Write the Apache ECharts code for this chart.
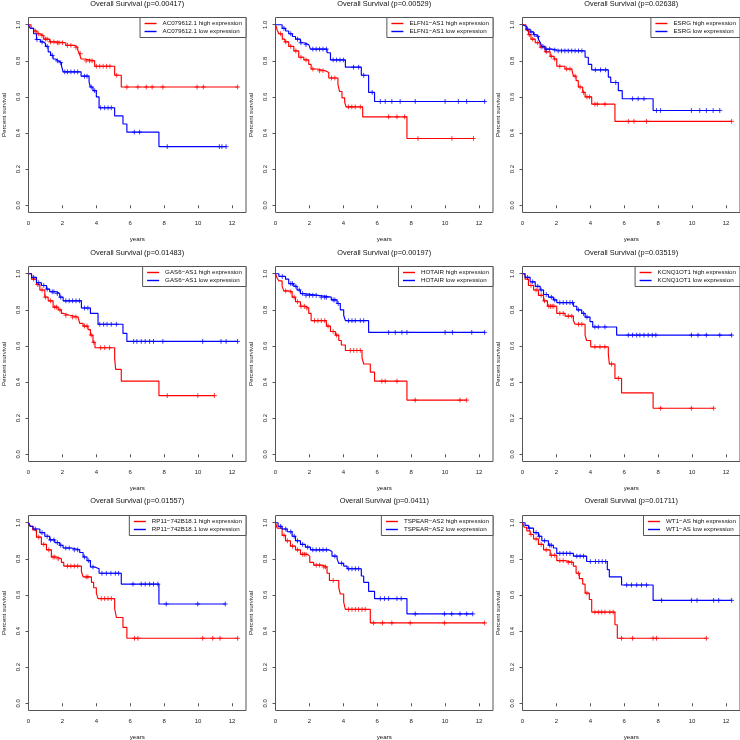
<!DOCTYPE html>
<html><head><meta charset="utf-8">
<script src="https://cdn.jsdelivr.net/npm/echarts@6/dist/echarts.min.js"></script>
<style>html,body{margin:0;padding:0;background:#fff}#c{width:740px;height:740px}</style>
</head><body><div id="c"></div>
<script>
// ---- panel labels ----
const genes = ['AC079612.1', 'ELFN1\u2212AS1', 'ESRG', 'GAS6\u2212AS1', 'HOTAIR', 'KCNQ1OT1', 'RP11\u2212742B18.1', 'TSPEAR\u2212AS2', 'WT1\u2212AS'];
const pValues = ['0.00417', '0.00529', '0.02638', '0.01483', '0.00197', '0.03519', '0.01557', '0.0411', '0.01711'];
const xTicks = [0, 2, 4, 6, 8, 10, 12];
const yTicks = [0, 0.2, 0.4, 0.6, 0.8, 1.0];

// ---- Panel 1: AC079612.1 ----
const p1HighT = [0, 0.15, 0.3, 0.5, 0.67, 0.9, 1.25, 1.6, 2.2, 2.7, 2.9, 3.0, 3.1, 3.3, 3.9, 5.08, 5.47];
const p1HighS = [1, 0.98, 0.965, 0.95, 0.94, 0.92, 0.905, 0.9, 0.886, 0.875, 0.86, 0.84, 0.81, 0.8, 0.77, 0.72, 0.655];
const p1HighC = [0.4, 0.6, 0.8, 1.0, 1.1, 1.3, 1.5, 1.7, 1.8, 2.0, 2.3, 2.5, 2.8, 3.05, 3.4, 3.6, 3.75, 4.0, 4.2, 4.4, 4.6, 4.8, 5.2, 5.8, 6.45, 6.94, 7.29, 7.92, 9.94, 10.31, 12.33];
const p1LowT = [0, 0.1, 0.3, 0.47, 0.7, 0.86, 1.0, 1.16, 1.3, 1.45, 1.6, 1.75, 1.94, 2.04, 3.1, 3.57, 3.65, 3.8, 4.0, 4.16, 5.08, 5.57, 5.8, 7.69];
const p1LowS = [1, 0.98, 0.95, 0.918, 0.905, 0.896, 0.88, 0.85, 0.83, 0.81, 0.8, 0.79, 0.775, 0.739, 0.715, 0.683, 0.655, 0.635, 0.6, 0.54, 0.495, 0.45, 0.405, 0.325];
const p1LowC = [0.5, 0.8, 1.1, 1.4, 1.7, 1.9, 2.14, 2.3, 2.5, 2.7, 2.9, 3.3, 3.45, 3.7, 3.9, 4.25, 4.49, 4.69, 4.88, 6.24, 6.55, 8.18, 11.25, 11.4, 11.65];

// ---- Panel 2: ELFN1-AS1 ----
const p2HighT = [0, 0.1, 0.2, 0.4, 0.55, 0.78, 1.08, 1.37, 1.67, 1.96, 2.1, 2.45, 2.94, 3.14, 3.68, 3.78, 3.92, 4.08, 4.16, 5.14, 7.75];
const p2HighS = [1, 0.97, 0.95, 0.92, 0.905, 0.88, 0.855, 0.82, 0.805, 0.78, 0.755, 0.745, 0.735, 0.705, 0.67, 0.63, 0.595, 0.57, 0.545, 0.49, 0.37];
const p2HighC = [0.3, 0.6, 0.9, 1.2, 1.5, 1.8, 2.2, 2.6, 2.8, 3.3, 3.5, 4.3, 4.5, 4.7, 5.0, 6.67, 7.16, 7.61, 8.4, 10.4, 11.67];
const p2LowT = [0, 0.39, 0.6, 0.78, 1.0, 1.18, 1.47, 1.67, 1.96, 2.06, 3.04, 3.24, 4.12, 5.06, 5.49, 5.84];
const p2LowS = [1, 0.98, 0.965, 0.95, 0.935, 0.92, 0.9, 0.89, 0.88, 0.865, 0.845, 0.805, 0.765, 0.72, 0.625, 0.575];
const p2LowC = [0.5, 0.9, 1.3, 1.5, 1.8, 2.2, 2.4, 2.6, 2.8, 3.0, 3.4, 3.6, 3.8, 4.0, 4.6, 4.9, 5.2, 5.7, 6.18, 6.47, 6.86, 7.35, 8.24, 10.0, 10.78, 11.27, 12.33];

// ---- Panel 3: ESRG ----
const p3HighT = [0, 0.2, 0.35, 0.5, 0.75, 1.04, 1.33, 1.63, 1.86, 2.02, 2.5, 2.9, 3.0, 3.16, 3.29, 3.55, 3.69, 4.08, 5.45];
const p3HighS = [1, 0.97, 0.945, 0.92, 0.9, 0.875, 0.85, 0.825, 0.81, 0.77, 0.755, 0.75, 0.715, 0.69, 0.655, 0.625, 0.6, 0.56, 0.465];
const p3HighC = [0.4, 0.6, 0.9, 1.1, 1.4, 1.7, 1.9, 2.2, 2.6, 2.8, 3.1, 3.4, 3.6, 3.8, 3.95, 4.27, 4.41, 4.86, 6.24, 6.57, 7.31, 12.33];
const p3LowT = [0, 0.1, 0.25, 0.45, 0.65, 0.8, 0.94, 1.05, 1.14, 1.33, 1.73, 2.02, 3.69, 3.88, 4.08, 5.06, 5.2, 5.65, 5.88, 7.7];
const p3LowS = [1, 0.99, 0.975, 0.96, 0.945, 0.935, 0.92, 0.9, 0.88, 0.865, 0.86, 0.855, 0.82, 0.78, 0.75, 0.71, 0.68, 0.635, 0.59, 0.525];
const p3LowC = [0.3, 0.5, 0.7, 0.9, 1.2, 1.4, 1.6, 1.9, 2.1, 2.3, 2.5, 2.7, 2.9, 3.1, 3.3, 3.5, 4.3, 4.6, 4.9, 5.5, 6.49, 6.82, 7.16, 7.9, 8.14, 9.96, 10.45, 10.84, 11.24, 11.63];

// ---- Panel 4: GAS6-AS1 ----
const p4HighT = [0, 0.18, 0.47, 0.67, 0.96, 1.16, 1.45, 1.75, 1.94, 2.08, 2.43, 2.92, 3.02, 3.22, 3.51, 3.65, 3.8, 3.92, 5.08, 5.14, 5.47, 7.69];
const p4HighS = [1, 0.97, 0.94, 0.91, 0.87, 0.85, 0.815, 0.8, 0.78, 0.77, 0.76, 0.75, 0.725, 0.71, 0.69, 0.66, 0.62, 0.59, 0.53, 0.47, 0.405, 0.325];
const p4HighC = [0.3, 0.55, 0.8, 1.0, 1.3, 1.55, 1.65, 1.85, 2.2, 2.6, 2.8, 3.3, 3.45, 3.7, 3.85, 4.25, 4.49, 4.78, 8.18, 9.98, 10.96];
const p4LowT = [0, 0.18, 0.47, 0.76, 1.06, 1.25, 1.65, 1.84, 2.04, 3.12, 3.65, 4.1, 5.57, 5.8];
const p4LowS = [1, 0.98, 0.95, 0.935, 0.915, 0.9, 0.89, 0.87, 0.85, 0.81, 0.78, 0.72, 0.67, 0.625];
const p4LowC = [0.3, 0.6, 0.9, 1.1, 1.4, 1.5, 1.7, 1.9, 2.2, 2.4, 2.6, 2.8, 3.0, 3.3, 3.5, 4.2, 4.43, 4.63, 4.88, 5.18, 6.2, 6.39, 6.65, 6.88, 7.14, 7.37, 7.92, 10.27, 11.35, 11.65, 12.33];

// ---- Panel 5: HOTAIR ----
const p5HighT = [0, 0.1, 0.2, 0.39, 0.49, 0.78, 0.98, 1.18, 1.47, 1.76, 1.96, 2.1, 3.0, 3.24, 3.53, 3.73, 3.88, 4.12, 5.1, 5.2, 5.59, 5.84, 7.75];
const p5HighS = [1, 0.975, 0.96, 0.93, 0.905, 0.9, 0.87, 0.845, 0.82, 0.81, 0.78, 0.74, 0.71, 0.68, 0.66, 0.63, 0.605, 0.575, 0.535, 0.5, 0.455, 0.405, 0.3];
const p5HighC = [0.6, 0.9, 1.1, 1.3, 1.5, 1.7, 1.85, 2.3, 2.5, 2.7, 2.9, 3.1, 3.4, 3.6, 4.41, 4.61, 4.8, 5.0, 6.27, 6.47, 7.16, 8.24, 10.88, 11.27];
const p5LowT = [0, 0.2, 0.59, 0.78, 1.08, 1.27, 1.47, 1.67, 2.5, 3.29, 3.63, 3.82, 4.02, 4.12, 5.49];
const p5LowS = [1, 0.985, 0.97, 0.945, 0.93, 0.91, 0.89, 0.88, 0.87, 0.855, 0.835, 0.8, 0.77, 0.74, 0.675];
const p5LowC = [0.4, 0.9, 1.0, 1.2, 1.4, 1.6, 1.8, 2.0, 2.2, 2.4, 2.7, 2.9, 3.0, 3.4, 3.5, 3.7, 4.31, 4.51, 4.7, 5.0, 5.2, 6.67, 7.06, 7.45, 7.75, 10.0, 10.43, 11.57, 12.33];

// ---- Panel 6: KCNQ1OT1 ----
const p6HighT = [0, 0.15, 0.35, 0.65, 0.94, 1.24, 1.47, 2.02, 2.51, 3.0, 3.1, 3.69, 3.78, 4.02, 5.06, 5.12, 5.45, 5.84, 7.7];
const p6HighS = [1, 0.97, 0.935, 0.91, 0.88, 0.85, 0.82, 0.78, 0.765, 0.74, 0.72, 0.66, 0.63, 0.595, 0.555, 0.5, 0.42, 0.34, 0.255];
const p6HighC = [0.5, 0.8, 1.1, 1.3, 1.55, 1.65, 1.75, 1.85, 2.2, 2.4, 2.7, 2.9, 3.3, 3.5, 4.27, 4.57, 4.86, 5.25, 5.65, 8.14, 9.96, 11.27];
const p6LowT = [0, 0.15, 0.45, 0.75, 1.04, 1.24, 1.53, 1.82, 2.02, 3.0, 3.2, 3.49, 3.69, 3.98, 4.14, 5.55];
const p6LowS = [1, 0.98, 0.955, 0.93, 0.91, 0.885, 0.87, 0.855, 0.84, 0.82, 0.8, 0.78, 0.76, 0.735, 0.705, 0.66];
const p6LowC = [0.3, 0.6, 0.9, 1.1, 1.4, 1.7, 1.9, 2.2, 2.4, 2.6, 2.8, 2.95, 3.3, 3.6, 3.8, 4.27, 4.47, 4.86, 6.24, 6.49, 6.73, 6.92, 7.16, 7.41, 7.65, 7.86, 9.96, 10.35, 10.84, 11.63, 12.33];

// ---- Panel 7: RP11-742B18.1 ----
const p7HighT = [0, 0.1, 0.25, 0.47, 0.76, 1.06, 1.35, 1.65, 1.94, 2.08, 3.12, 3.22, 3.71, 3.84, 4.0, 4.1, 5.08, 5.18, 5.57, 5.8];
const p7HighS = [1, 0.98, 0.96, 0.92, 0.88, 0.85, 0.81, 0.8, 0.78, 0.76, 0.73, 0.7, 0.67, 0.64, 0.61, 0.58, 0.525, 0.475, 0.42, 0.36];
const p7HighC = [0.6, 0.9, 1.2, 1.45, 1.55, 1.75, 2.3, 2.5, 2.7, 2.9, 3.4, 3.5, 4.29, 4.49, 4.69, 4.88, 6.25, 6.45, 10.27, 10.86, 11.29, 12.33];
const p7LowT = [0, 0.1, 0.27, 0.67, 0.96, 1.25, 1.55, 1.84, 2.04, 2.53, 3.02, 3.22, 3.45, 3.65, 3.9, 4.16, 5.47, 7.69];
const p7LowS = [1, 0.98, 0.965, 0.945, 0.925, 0.905, 0.89, 0.875, 0.86, 0.85, 0.835, 0.81, 0.79, 0.755, 0.745, 0.72, 0.66, 0.55];
const p7LowC = [0.4, 0.8, 1.1, 1.3, 1.5, 1.7, 1.9, 2.2, 2.4, 2.7, 2.9, 3.3, 3.55, 3.8, 4.33, 4.59, 4.86, 5.12, 5.31, 6.16, 6.65, 6.88, 7.14, 7.37, 7.63, 8.12, 9.98, 11.6];

// ---- Panel 8: TSPEAR-AS2 ----
const p8HighT = [0, 0.1, 0.39, 0.59, 0.88, 1.18, 1.47, 1.86, 2.02, 2.25, 2.75, 3.04, 3.18, 3.73, 3.82, 4.02, 4.12, 5.59];
const p8HighS = [1, 0.97, 0.93, 0.9, 0.87, 0.85, 0.825, 0.815, 0.78, 0.765, 0.755, 0.72, 0.68, 0.64, 0.605, 0.56, 0.52, 0.445];
const p8HighC = [0.5, 0.7, 1.0, 1.3, 1.6, 1.7, 1.8, 2.4, 2.6, 2.85, 2.95, 3.4, 4.31, 4.51, 4.71, 4.9, 5.1, 5.29, 5.78, 6.31, 6.86, 7.94, 9.96, 12.33];
const p8LowT = [0, 0.15, 0.39, 0.69, 0.98, 1.18, 1.47, 1.76, 2.06, 3.14, 3.33, 3.63, 3.73, 4.02, 4.22, 5.06, 5.2, 5.49, 5.84, 7.75];
const p8LowS = [1, 0.98, 0.965, 0.95, 0.925, 0.9, 0.88, 0.865, 0.85, 0.84, 0.815, 0.8, 0.775, 0.76, 0.745, 0.705, 0.67, 0.62, 0.58, 0.495];
const p8LowC = [0.3, 0.6, 0.9, 1.1, 1.3, 1.6, 1.9, 2.2, 2.4, 2.6, 2.8, 3.0, 3.5, 3.9, 4.31, 4.51, 4.71, 4.9, 6.18, 6.43, 6.67, 7.16, 7.41, 8.24, 9.96, 10.39, 10.88, 11.27, 11.63];

// ---- Panel 9: WT1-AS ----
const p9HighT = [0, 0.1, 0.25, 0.45, 0.65, 0.94, 1.24, 1.63, 2.02, 2.51, 3.0, 3.16, 3.35, 3.55, 3.69, 3.94, 4.08, 5.45, 5.59];
const p9HighS = [1, 0.975, 0.955, 0.935, 0.91, 0.88, 0.85, 0.82, 0.79, 0.78, 0.76, 0.72, 0.69, 0.66, 0.61, 0.575, 0.505, 0.435, 0.36];
const p9HighC = [0.5, 0.8, 1.1, 1.4, 1.7, 1.9, 2.2, 2.4, 2.7, 2.9, 3.3, 3.8, 4.27, 4.47, 4.67, 4.86, 5.15, 5.35, 5.84, 6.49, 7.7, 7.9, 10.84];
const p9LowT = [0, 0.15, 0.35, 0.65, 0.94, 1.14, 1.53, 1.82, 2.02, 3.0, 3.78, 5.0, 5.12, 5.84, 7.7];
const p9LowS = [1, 0.985, 0.97, 0.945, 0.925, 0.9, 0.875, 0.86, 0.83, 0.815, 0.785, 0.74, 0.7, 0.655, 0.57];
const p9LowC = [0.4, 0.8, 1.0, 1.3, 1.6, 1.7, 2.2, 2.4, 2.6, 2.8, 3.2, 3.4, 3.6, 4.0, 4.3, 4.5, 4.7, 4.9, 6.14, 6.43, 6.73, 7.02, 7.31, 8.2, 9.96, 10.29, 11.27, 11.57, 12.33];

const panels = [
  [p1HighT, p1HighS, p1HighC, p1LowT, p1LowS, p1LowC],
  [p2HighT, p2HighS, p2HighC, p2LowT, p2LowS, p2LowC],
  [p3HighT, p3HighS, p3HighC, p3LowT, p3LowS, p3LowC],
  [p4HighT, p4HighS, p4HighC, p4LowT, p4LowS, p4LowC],
  [p5HighT, p5HighS, p5HighC, p5LowT, p5LowS, p5LowC],
  [p6HighT, p6HighS, p6HighC, p6LowT, p6LowS, p6LowC],
  [p7HighT, p7HighS, p7HighC, p7LowT, p7LowS, p7LowC],
  [p8HighT, p8HighS, p8HighC, p8LowT, p8LowS, p8LowC],
  [p9HighT, p9HighS, p9HighC, p9LowT, p9LowS, p9LowC]
];

// ---- layout ----
const FONT = '"Liberation Sans", Arial, Helvetica, sans-serif';
const colLeft = [28.5, 275.5, 522.5];
const rowTop = [17.5, 266.5, 515.5];
const titleY = [4, 252.5, 501];
const plotW = 217.5, plotH = 195;
const RED = '#ff0000', BLUE = '#0000ff', BOX = '#555555';

const allTimes = [].concat(...panels.map(p => [].concat(p[0], p[2], p[3], p[5])));
const xMax = Math.max(...allTimes) * 1.04;

function stepData(T, S, C) {
  const pts = T.map((t, i) => [t, S[i]]);
  const last = Math.max(T[T.length - 1], C.length ? C[C.length - 1] : 0);
  if (last > T[T.length - 1]) pts.push([last, S[S.length - 1]]);
  return pts;
}
function censorData(T, S, C) {
  return C.map(c => {
    let v = S[0];
    for (let i = 0; i < T.length; i++) { if (T[i] <= c) v = S[i]; }
    return [c, v];
  });
}

const option = {
  animation: false,
  backgroundColor: '#ffffff',
  textStyle: { fontFamily: FONT },
  grid: [], xAxis: [], yAxis: [], series: [], legend: [], graphic: []
};

panels.forEach((p, k) => {
  const r = Math.floor(k / 3), c = k % 3;
  const left = colLeft[c], top = rowTop[r];
  option.grid.push({ left: left, top: top, width: plotW, height: plotH, show: true,
    borderColor: BOX, borderWidth: 1, backgroundColor: 'transparent', containLabel: false, outerBoundsMode: 'none' });
  option.xAxis.push({ gridIndex: k, type: 'value', min: 0, max: xMax, interval: 2,
    axisLine: { show: false }, splitLine: { show: false },
    axisTick: { show: true, length: 3, customValues: xTicks, lineStyle: { color: BOX } },
    axisLabel: { customValues: xTicks, fontSize: 6, margin: 7.5, color: '#222', fontFamily: FONT },
    name: 'years', nameLocation: 'middle', nameGap: 23.5,
    nameTextStyle: { fontSize: 6.2, color: '#111', fontFamily: FONT } });
  option.yAxis.push({ gridIndex: k, type: 'value', min: -0.04, max: 1.04,
    axisLine: { show: false }, splitLine: { show: false },
    axisTick: { show: true, length: 3, customValues: yTicks, lineStyle: { color: BOX } },
    axisLabel: { customValues: yTicks, rotate: 90, fontSize: 6, margin: 7.5, color: '#222', fontFamily: FONT,
      formatter: v => Number(v).toFixed(1) },
    name: 'Percent survival', nameLocation: 'middle', nameGap: 21.5,
    nameTextStyle: { fontSize: 6.2, color: '#111', fontFamily: FONT } });

  const hiName = genes[k] + ' high expression';
  const loName = genes[k] + ' low expression';
  const groups = [[hiName, p[0], p[1], p[2], RED], [loName, p[3], p[4], p[5], BLUE]];
  groups.forEach(g => {
    option.series.push({ name: g[0], type: 'line', xAxisIndex: k, yAxisIndex: k, step: 'end',
      showSymbol: false, symbol: 'none', data: stepData(g[1], g[2], g[3]),
      lineStyle: { color: g[4], width: 1.15 }, itemStyle: { color: g[4] }, z: 3 });
    option.series.push({ name: g[0] + ' censored', type: 'scatter', xAxisIndex: k, yAxisIndex: k,
      symbol: 'path://M0,5L10,5M5,0L5,10', symbolSize: 4.8, data: censorData(g[1], g[2], g[3]),
      itemStyle: { color: 'none', borderColor: g[4], borderWidth: 0.9, opacity: 0.85 }, z: 4, silent: true });
  });

  option.legend.push({ data: [hiName, loName], orient: 'vertical', selectedMode: false,
    right: 740 - (left + plotW), top: top, padding: [3, 4, 3, 4.5], itemGap: 2,
    itemWidth: 12, itemHeight: 1.4, icon: 'rect', borderColor: BOX, borderWidth: 1,
    backgroundColor: '#ffffff', z: 10,
    textStyle: { fontSize: 6.2, color: '#111', fontFamily: FONT, padding: [0, 0, 0, 1] } });

  option.graphic.push({ type: 'text', x: left + plotW / 2, y: titleY[r], silent: true,
    style: { text: 'Overall Survival (p=' + pValues[k] + ')', fontSize: 7.4, fontFamily: FONT,
      fill: '#111', align: 'center', verticalAlign: 'middle', textAlign: 'center', textVerticalAlign: 'middle' } });
});

const chart = echarts.init(document.getElementById('c'), null, { renderer: 'canvas' });
chart.setOption(option);
</script>
</body></html>
